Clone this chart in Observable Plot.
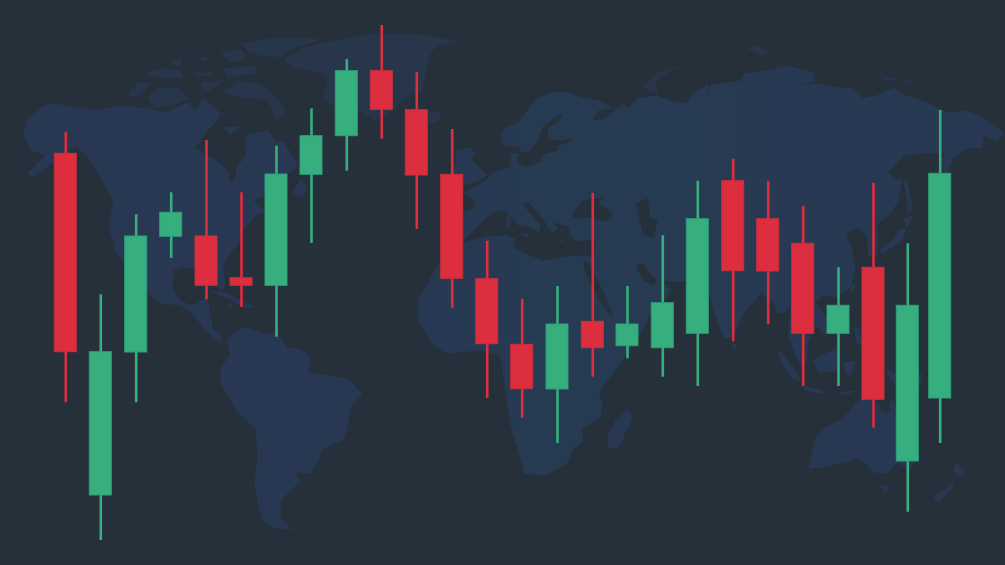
<!DOCTYPE html>
<html>
<head>
<meta charset="utf-8">
<style>html,body{margin:0;padding:0;background:#25303b;overflow:hidden}svg{display:block}</style>
<script src="https://cdn.jsdelivr.net/npm/d3@7"></script>
<script src="https://cdn.jsdelivr.net/npm/@observablehq/plot@0.6"></script>
</head>
<body>
<div id="chart"></div>
<script>
// Candles: position along the session axis and price levels (level axis grows downward)
const session = [65.3,100.3,135.7,170.7,206,241,276,311,346.3,381.3,416.3,451.7,486.7,521.7,557,592.3,627,662.3,697.3,732.7,767.7,802.7,838,873,907.3,939.7];
const high  = [131.7,294.3,214.3,192.3,140,192.3,145.7,108.3,59,25,71.7,129,240.7,298.7,286,192.7,286,235.3,180.7,158.7,180.7,205.7,267.3,182.7,243.3,110];
const top_  = [153.3,351.7,236,212.3,236,277.7,174,135.7,70.7,70.7,109.7,174.3,278.7,344.3,324,321.3,324,302.7,218.7,180.7,218.7,243.3,305.3,267.3,305.3,173.3];
const bot   = [351.7,495,352,236.3,285.3,285.3,285.3,174.3,135.7,109.3,175,278.3,343.7,388.7,389,347.7,345.7,347.7,333.3,270.7,271,333.3,333.3,399.3,461,398];
const low   = [402.3,540,402.3,258,299.3,307,336.7,243,170.7,138.7,229,307.7,398,417.7,443,376.7,358.3,376.7,386,341.3,324.3,386,386,427.7,511.7,443];
const side  = ["d","u","u","u","d","d","u","u","u","d","d","d","d","d","u","d","u","u","u","d","d","d","u","d","u","u"];

// World map outlines
const northAmerica = [[23,133],[27,118],[43,105],[53,103],[77,107],[97,110],[120,105],[148,108],[165,112],[187,102],[195,110],[203,98],[212,105],[220,113],[217,120],[207,130],[195,147],[203,153],[213,157],[228,170],[230,182],[235,177],[235,168],[245,155],[245,137],[248,133],[267,130],[277,142],[283,140],[293,157],[298,165],[290,172],[278,178],[270,190],[277,200],[263,195],[253,200],[265,210],[253,217],[240,233],[238,243],[227,257],[222,267],[225,283],[222,290],[217,288],[213,272],[195,268],[183,267],[173,270],[172,287],[180,300],[192,305],[200,300],[207,297],[210,315],[212,328],[222,337],[218,342],[203,328],[192,313],[180,305],[160,303],[147,293],[125,265],[115,250],[108,227],[113,200],[100,177],[90,160],[75,145],[60,157],[33,177],[27,173],[45,155],[30,150]];
const southAmerica = [[227,340],[233,332],[245,327],[263,333],[277,332],[287,347],[300,348],[310,357],[308,372],[328,375],[347,378],[362,393],[350,408],[347,428],[342,440],[322,448],[318,460],[310,473],[295,472],[300,482],[293,487],[287,493],[280,502],[280,518],[292,529],[275,528],[262,520],[257,502],[254,482],[257,458],[255,428],[237,412],[220,383],[220,368],[229,355]];
const greenland = [[283,60],[300,48],[333,40],[367,34],[400,33],[427,35],[457,41],[437,45],[430,53],[427,63],[422,90],[410,93],[393,110],[375,120],[358,110],[345,112],[335,107],[322,97],[328,78],[320,72],[293,67]];
const arctic1 = [[240,43],[270,38],[300,37],[320,39],[287,50],[280,57],[260,55],[247,50]];
const arctic2 = [[220,52],[240,48],[247,58],[230,62]];
const banks = [[128,93],[137,82],[150,82],[142,93],[130,97]];
const victoria = [[147,97],[155,88],[178,87],[188,98],[173,105],[153,107]];
const melville = [[143,73],[163,67],[180,70],[183,77],[163,78]];
const arctic3 = [[170,60],[182,58],[180,65],[172,64]];
const arctic4 = [[195,55],[208,58],[203,62]];
const arctic5 = [[192,72],[212,72],[210,76],[195,75]];
const devon = [[223,68],[253,65],[257,72],[227,77]];
const baffin = [[223,92],[237,80],[260,83],[277,97],[283,107],[285,113],[277,120],[267,100],[253,98],[243,98],[233,95]];
const somerset = [[200,82],[223,80],[210,90],[202,90]];
const southampton = [[223,127],[242,125],[230,135]];
const newfoundland = [[292,193],[300,178],[307,187],[302,197]];
const cuba = [[208,290],[227,292],[243,302],[257,307],[243,307],[227,298]];
const hispaniola = [[226,305],[231,304],[231,308]];
const iceland = [[428,112],[438,111],[442,117],[435,122],[428,122]];
const britain = [[455,150],[468,147],[475,152],[470,158],[487,175],[478,180],[463,185],[455,180]];
const ireland = [[453,165],[463,163],[463,174],[453,174]];
const afroEurasia = [[441,240],[441,213],[463,212],[473,208],[475,200],[463,193],[487,179],[492,172],[510,166],[510,153],[518,153],[517,163],[526,166],[540,162],[543,154],[558,150],[557,146],[568,142],[575,138],[557,140],[547,138],[548,128],[557,122],[563,115],[557,115],[543,125],[538,138],[530,150],[522,153],[518,146],[503,146],[500,135],[505,127],[518,122],[528,108],[538,97],[552,92],[565,91],[582,97],[598,100],[613,108],[598,110],[592,120],[605,118],[612,112],[622,103],[627,108],[637,98],[657,95],[670,100],[687,103],[692,93],[707,84],[708,93],[710,85],[727,82],[740,80],[745,73],[767,70],[787,65],[813,72],[815,80],[797,85],[817,83],[837,87],[853,88],[863,98],[883,93],[893,87],[900,93],[927,102],[947,112],[967,110],[987,120],[1003,132],[997,140],[983,135],[982,147],[967,148],[953,157],[950,165],[945,178],[940,160],[945,152],[923,153],[903,155],[888,172],[895,180],[902,178],[897,202],[888,215],[877,223],[878,240],[876,256],[868,255],[866,235],[857,227],[845,233],[851,245],[855,267],[850,287],[837,297],[823,295],[815,302],[827,320],[825,335],[815,325],[808,340],[806,360],[800,365],[797,358],[788,337],[790,305],[783,313],[777,312],[773,302],[760,293],[743,313],[732,338],[723,337],[713,310],[709,293],[686,281],[662,281],[670,288],[667,297],[650,312],[643,328],[630,348],[613,372],[598,392],[602,402],[600,417],[582,428],[582,442],[573,448],[567,462],[545,475],[524,473],[517,448],[510,425],[500,355],[477,350],[447,353],[433,345],[417,318],[418,298],[427,283],[440,260],[445,250]];
const madagascar = [[628,408],[632,418],[625,432],[618,448],[608,448],[607,435],[615,420]];
const sriLanka = [[731,343],[736,344],[734,350]];
const sumatra = [[777,350],[786,358],[800,380],[792,378],[783,365]];
const java = [[803,385],[827,392],[815,393],[804,389]];
const sunda = [[837,392],[857,390],[845,394]];
const borneo = [[813,360],[837,347],[838,370],[818,373]];
const sulawesi = [[843,362],[856,360],[850,375],[845,372]];
const philippines = [[853,325],[858,328],[862,345],[856,342]];
const taiwan = [[852,283],[855,285],[852,292],[850,289]];
const newGuinea = [[885,368],[897,375],[922,373],[918,392],[900,388],[890,380]];
const australia = [[808,468],[815,437],[823,428],[842,418],[855,403],[862,398],[878,402],[880,410],[888,408],[890,397],[893,400],[899,420],[918,450],[910,470],[897,462],[887,473],[873,472],[867,465],[857,458],[840,463],[823,467]];
const tasmania = [[880,485],[890,485],[885,493]];
const nzNorth = [[955,462],[965,472],[958,477],[953,470]];
const nzSouth = [[952,482],[933,497],[938,502],[953,487]];
const novayaZemlya = [[643,85],[657,72],[688,64],[667,72],[655,82],[658,92],[647,90]];
const svalbard = [[747,48],[757,45],[770,53],[760,55]];
const franzJosef = [[775,57],[785,58],[782,60]];
const severnaya = [[878,75],[897,78],[885,81]];
const severnaya2 = [[901,79],[912,81],[905,83]];
const newSiberia = [[982,107],[988,108],[985,110]];
const sakhalin = [[903,179],[907,180],[912,206],[908,212],[906,198]];
const hokkaido = [[903,218],[913,215],[906,227]];
const honshu = [[906,229],[902,240],[892,247],[880,253],[880,249],[892,240],[900,228]];

// Dark water cut back over the land
const hudsonBay = [[195,147],[207,133],[217,120],[243,112],[243,100],[253,98],[265,108],[255,118],[248,133],[245,137],[245,155],[235,168],[235,177],[230,182],[228,170],[213,157],[203,153]];
const mediterranean = [[445,238],[463,240],[478,225],[492,212],[505,210],[518,225],[532,228],[538,232],[540,226],[545,224],[552,232],[558,228],[552,222],[568,226],[570,235],[575,241],[595,238],[594,256],[572,255],[542,260],[513,248],[515,238],[505,235],[488,235],[463,242],[445,250]];
const adriatic = [[521,203],[527,201],[540,215],[546,224],[541,226],[532,215]];
const blackSea = [[572,213],[582,200],[592,198],[605,197],[597,202],[613,213],[605,221],[588,217],[572,218]];
const caspian = [[635,202],[647,198],[650,217],[657,220],[653,237],[643,235],[640,223]];
const redSea = [[583,258],[588,262],[600,285],[613,315],[609,315],[597,297],[584,270]];
const persianGulf = [[637,263],[642,263],[650,273],[657,280],[653,285],[643,280],[637,270]];
const carpentaria = [[878,402],[888,404],[890,410],[884,412]];

// Small land over water
const sardinia = [[506,215],[510,215],[510,228],[506,228]];
const sicily = [[520,233],[528,233],[526,237]];
const crete = [[556,240],[566,240],[560,242]];

const americasShapes = {northAmerica,southAmerica,newfoundland,cuba,hispaniola,australia,tasmania,nzNorth,nzSouth,newGuinea,madagascar};
const arcticShapes = {greenland,arctic1,arctic2,banks,victoria,melville,arctic3,arctic4,arctic5,devon,baffin,somerset,iceland,novayaZemlya,svalbard,franzJosef,severnaya,severnaya2,newSiberia};
const oldWorldShapes = {britain,ireland,afroEurasia,sriLanka,sumatra,java,sunda,borneo,sulawesi,philippines,taiwan,sakhalin,hokkaido,honshu};
const waterShapes = {hudsonBay,mediterranean,adriatic,blackSea,caspian,redSea,persianGulf,carpentaria};
const isleShapes = {southampton,sardinia,sicily,crete};
const rows = o => Object.entries(o).flatMap(([id,p]) => p.map(([x,y]) => ({id,x,y})));

const candles = session.map((x,i) => ({x,high:high[i],top:top_[i],bot:bot[i],low:low[i],side:side[i]}));
const fillOf = d => d.side === "u" ? "#36ae7e" : "#dc2e3e";
const edgeOf = d => d.side === "u" ? "#2f9e7d" : "#c9303f";
const halfBody = 11;

const land = "#283852", landArctic = "#27364b", water = "#25303b";
const shapeLine = (o, fill) => Plot.line(rows(o), {x:"x", y:"y", z:"id", fill, stroke:"none"});
const gradientDefs = () => {
  const g = d3.create("svg:defs").append("linearGradient")
    .attr("id","oldWorld").attr("gradientUnits","userSpaceOnUse")
    .attr("x1",420).attr("y1",0).attr("x2",1000).attr("y2",0);
  [["0%","#283852"],["25%","#263b52"],["55%","#273a52"],["100%","#283853"]]
    .forEach(([o,c]) => g.append("stop").attr("offset",o).attr("stop-color",c));
  return g.node().parentNode;
};
document.getElementById("chart").append(Plot.plot({
  width: 1005, height: 565, margin: 0,
  style: {background: water},
  x: {domain: [0,1005], range: [0,1005], axis: null},
  y: {domain: [0,565], range: [0,565], axis: null},
  marks: [
    gradientDefs,
    shapeLine(americasShapes, land),
    shapeLine(arcticShapes, landArctic),
    shapeLine(oldWorldShapes, "url(#oldWorld)"),
    shapeLine(waterShapes, water),
    shapeLine(isleShapes, land),
    Plot.ruleX(candles, {x:"x", y1:"low", y2:"high", stroke:fillOf, strokeWidth:2.6}),
    Plot.rect(candles, {x1:d=>d.x-halfBody, x2:d=>d.x+halfBody, y1:"top", y2:"bot", fill:fillOf, stroke:edgeOf, strokeWidth:1})
  ]
}));
</script>
</body>
</html>
